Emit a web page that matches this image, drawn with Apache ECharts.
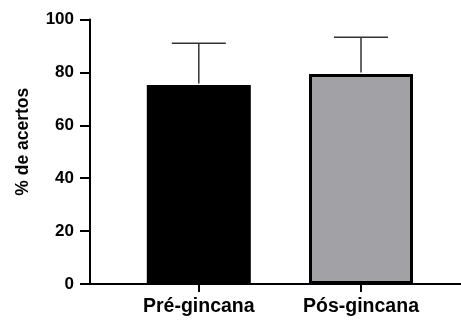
<!DOCTYPE html>
<html>
<head>
<meta charset="utf-8">
<script src="https://cdn.jsdelivr.net/npm/echarts@6/dist/echarts.min.js"></script>
<style>
  html, body { margin: 0; padding: 0; background: #fff; }
  #chart { width: 461px; height: 320px; }
</style>
</head>
<body>
<div id="chart"></div>
<script>
// Group labels, means and standard deviations (% de acertos)
const categories = ['Pré-gincana', 'Pós-gincana'];
const means = [75.2, 79.4];
const sds = [15.8, 13.9];
const barColors = ['#000000', '#a2a2a6'];
const yMin = 0;
const yMax = 100;
const yStep = 20;

const FONT = '"Liberation Sans", Arial, Helvetica, sans-serif';
const chart = echarts.init(document.getElementById('chart'), null, { renderer: 'canvas' });

const gridTop = 19.5;
const gridBottom = 36;

chart.setOption({
  animation: false,
  backgroundColor: '#ffffff',
  grid: [
    // frame grid: carries the y axis and the full-width baseline
    { left: 90, right: 0, top: gridTop, bottom: gridBottom },
    // bar grid: two category slots centred under the bars
    { left: 117.7, right: 18.9, top: gridTop, bottom: gridBottom }
  ],
  xAxis: [
    {
      gridIndex: 0, type: 'value', min: 0, max: 1,
      axisLine: { show: true, lineStyle: { color: '#000', width: 2 } },
      axisTick: { show: false }, axisLabel: { show: false }, splitLine: { show: false }
    },
    {
      gridIndex: 1, type: 'category', data: categories,
      axisLine: { show: false },
      axisTick: { show: true, alignWithLabel: true, length: 8, lineStyle: { color: '#000', width: 2 } },
      axisLabel: { color: '#000', fontFamily: FONT, fontWeight: 'bold', fontSize: 19.5, margin: 13 },
      splitLine: { show: false }
    }
  ],
  yAxis: [
    {
      gridIndex: 0, type: 'value', min: yMin, max: yMax, interval: yStep,
      name: '% de acertos', nameLocation: 'middle', nameGap: 58,
      nameTextStyle: { color: '#000', fontFamily: FONT, fontWeight: 'bold', fontSize: 17.5, padding: [0, 0, 0, 20] },
      axisLine: { show: true, lineStyle: { color: '#000', width: 2 } },
      axisTick: { show: true, length: 10, lineStyle: { color: '#000', width: 2 } },
      axisLabel: { color: '#000', fontFamily: FONT, fontWeight: 'bold', fontSize: 17, margin: 16 },
      splitLine: { show: false }
    },
    {
      gridIndex: 1, type: 'value', min: yMin, max: yMax, interval: yStep, show: false,
      splitLine: { show: false }
    }
  ],
  series: [
    {
      type: 'bar', xAxisIndex: 1, yAxisIndex: 1, barWidth: 104, z: 2,
      data: means.map((v, i) => ({
        value: v,
        itemStyle: { color: barColors[i], borderColor: '#000', borderWidth: 3 }
      }))
    },
    {
      // upper whiskers: mean -> mean + SD with a horizontal cap
      type: 'custom', xAxisIndex: 1, yAxisIndex: 1, z: 3,
      data: means.map((m, i) => [i, m, m + sds[i]]),
      renderItem: function (params, api) {
        const base = api.coord([api.value(0), api.value(1)]);
        const top = api.coord([api.value(0), api.value(2)]);
        const half = 27;
        const style = { stroke: '#333', lineWidth: 1.5 };
        return {
          type: 'group',
          children: [
            { type: 'line', shape: { x1: base[0], y1: base[1] - 1.5, x2: top[0], y2: top[1] }, style: style },
            { type: 'line', shape: { x1: top[0] - half, y1: top[1], x2: top[0] + half, y2: top[1] }, style: style }
          ]
        };
      }
    }
  ]
});
</script>
</body>
</html>
